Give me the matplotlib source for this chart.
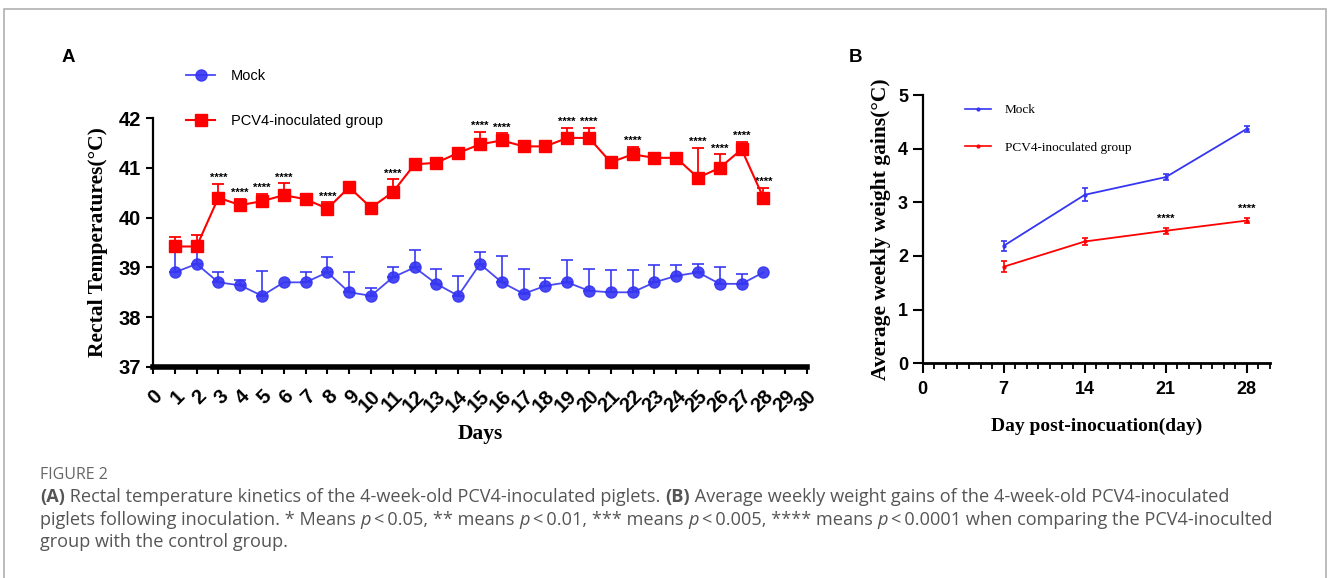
import numpy as np
import matplotlib
matplotlib.use("Agg")
import matplotlib.pyplot as plt
from matplotlib.patches import Rectangle
from matplotlib.ticker import MultipleLocator
from matplotlib.lines import Line2D

# 数据 (A: 直肠温度, B: 周增重)
days = list(range(1, 29))
mock_temp = [38.9, 39.07, 38.7, 38.64, 38.43, 38.7, 38.7, 38.9, 38.5, 38.43, 38.8, 39.0, 38.67, 38.43,
             39.07, 38.7, 38.47, 38.63, 38.7, 38.53, 38.5, 38.5, 38.7, 38.83, 38.9, 38.67, 38.67, 38.9]
mock_err = [0.4, 0.23, 0.2, 0.11, 0.5, 0.0, 0.2, 0.3, 0.4, 0.15, 0.2, 0.35, 0.3, 0.4,
            0.23, 0.52, 0.5, 0.15, 0.44, 0.43, 0.45, 0.45, 0.35, 0.22, 0.17, 0.33, 0.2, 0.0]
pcv4_temp = [39.42, 39.42, 40.4, 40.25, 40.33, 40.45, 40.37, 40.18, 40.61, 40.2, 40.51, 41.07, 41.1, 41.3,
             41.47, 41.55, 41.43, 41.43, 41.6, 41.6, 41.11, 41.27, 41.2, 41.2, 40.8, 41.0, 41.37, 40.4]
pcv4_err = [0.2, 0.24, 0.28, 0.13, 0.15, 0.24, 0.0, 0.13, 0.0, 0.0, 0.26, 0.0, 0.0, 0.0,
            0.25, 0.14, 0.0, 0.0, 0.2, 0.2, 0.0, 0.15, 0.0, 0.0, 0.6, 0.27, 0.15, 0.2]
star_days_a = [3, 4, 5, 6, 8, 11, 15, 16, 19, 20, 22, 25, 26, 27, 28]

week_days = [7, 14, 21, 28]
mock_gain = [2.19, 3.14, 3.47, 4.37]
mock_gain_err = [0.09, 0.12, 0.06, 0.06]
pcv4_gain = [1.80, 2.27, 2.47, 2.66]
pcv4_gain_err = [0.10, 0.06, 0.06, 0.05]
star_days_b = [21, 28]

BLUE = '#3535f2'
RED = '#ff0000'
SANS = ['Liberation Sans', 'DejaVu Sans']
SERIF = ['Liberation Serif', 'DejaVu Serif']

W, H = 1328, 578
fig = plt.figure(figsize=(W / 100, H / 100), dpi=100)

# 外框
fig.patches.append(Rectangle((4 / W, -0.1), (1326 - 4) / W, 1.1 - 9 / H, transform=fig.transFigure,
                             fill=False, edgecolor='#b0b0b0', linewidth=1.2))

# ---------------- A ----------------
axA = fig.add_axes([153 / W, 1 - 367 / H, (807 - 153) / W, (367 - 118) / H])
axA.set_xlim(0, 30)
axA.set_ylim(37, 42)
for s in ['top', 'right']:
    axA.spines[s].set_visible(False)
axA.spines['left'].set_linewidth(1.6)
axA.spines['bottom'].set_linewidth(4.0)
axA.set_xticks(range(0, 31))
axA.set_yticks(range(37, 43))
axA.tick_params(axis='both', width=1.5, length=5, direction='out', color='black')
axA.set_yticklabels([str(v) for v in range(37, 43)], fontsize=14.5, fontweight='bold', family=SANS)
axA.set_xticklabels([str(v) for v in range(0, 31)], fontsize=14.5, fontweight='bold', family=SANS,
                    rotation=45, ha='right', va='top', rotation_mode='anchor')
axA.tick_params(axis='x', pad=9)

d = np.array(days)
me = np.array(mock_err)
pe = np.array(pcv4_err)
mt = np.array(mock_temp)
pt = np.array(pcv4_temp)

axA.plot(d, mt, color=BLUE, lw=1.3, marker='o', ms=8, mfc=BLUE, mec=BLUE, alpha=0.9, zorder=3)
m = me > 0
axA.errorbar(d[m], mt[m], yerr=[np.zeros(m.sum()), me[m]], fmt='none', ecolor=BLUE, elinewidth=1.3,
             capsize=4, capthick=1.3, alpha=0.9, zorder=2)
axA.plot(d, pt, color=RED, lw=1.5, marker='s', ms=8, mfc=RED, mec=RED, zorder=5)
m = pe > 0
axA.errorbar(d[m], pt[m], yerr=[np.zeros(m.sum()), pe[m]], fmt='none', ecolor=RED, elinewidth=1.3,
             capsize=4, capthick=1.3, zorder=4)
for sd in star_days_a:
    i = days.index(sd)
    top = max(pcv4_temp[i] + pcv4_err[i], pcv4_temp[i] + 0.12)
    axA.annotate('****', (sd, top), xytext=(0, 0.5), textcoords='offset points', ha='center', va='bottom',
                 fontsize=8, fontweight='bold', family=SANS)
for sp in axA.spines.values():
    sp.set_zorder(6)

axA.set_ylabel('Rectal Temperatures(°C)', fontsize=15.5, fontweight='bold', family=SERIF, labelpad=8)
axA.set_xlabel('Days', fontsize=15.5, fontweight='bold', family=SERIF, labelpad=6)

hA = [Line2D([], [], color=BLUE, lw=1.3, marker='o', ms=8, alpha=0.9),
      Line2D([], [], color=RED, lw=1.5, marker='s', ms=8)]
fig.legend(hA, ['Mock', 'PCV4-inoculated group'], loc='upper left', bbox_to_anchor=(186 / W, 1 - 69 / H),
           frameon=False, borderpad=0, borderaxespad=0, handlelength=2.0, handletextpad=1.1,
           labelspacing=2.15, prop={'family': SANS, 'size': 10.5})

fig.text(68 / W, 1 - 57 / H, 'A', fontsize=13.5, fontweight='bold', family=SANS, ha='center', va='center')

# ---------------- B ----------------
axB = fig.add_axes([922.7 / W, 1 - 363.3 / H, (1270 - 922.7) / W, (363.3 - 95) / H])
axB.set_xlim(0, 30)
axB.set_ylim(0, 5)
for s in ['top', 'right']:
    axB.spines[s].set_visible(False)
axB.spines['left'].set_linewidth(1.6)
axB.spines['bottom'].set_linewidth(2.0)
axB.set_xticks([0, 7, 14, 21, 28])
axB.xaxis.set_minor_locator(MultipleLocator(1))
axB.set_yticks(range(0, 6))
axB.tick_params(axis='both', which='major', width=1.5, length=7, direction='out')
axB.tick_params(axis='x', which='minor', width=1.3, length=4.5, direction='out')
axB.tick_params(axis='x', which='major', pad=6)
axB.set_xticklabels(['0', '7', '14', '21', '28'], fontsize=13, fontweight='bold', family=SANS)
axB.set_yticklabels([str(v) for v in range(0, 6)], fontsize=13, fontweight='bold', family=SANS)

axB.errorbar(week_days, mock_gain, yerr=mock_gain_err, color=BLUE, lw=1.3, marker='o', ms=2,
             capsize=2.2, capthick=1.2, elinewidth=1.2)
axB.errorbar(week_days, pcv4_gain, yerr=pcv4_gain_err, color=RED, lw=1.3, marker='o', ms=2,
             capsize=2.2, capthick=1.2, elinewidth=1.2)
for sd in star_days_b:
    i = week_days.index(sd)
    axB.annotate('****', (sd, pcv4_gain[i] + pcv4_gain_err[i]), xytext=(0, 3), textcoords='offset points',
                 ha='center', va='bottom', fontsize=8, fontweight='bold', family=SANS)

axB.set_ylabel('Average weekly weight gains(°C)', fontsize=15.5, fontweight='bold', family=SERIF, labelpad=5)
axB.set_xlabel('Day post-inocuation(day)', fontsize=14, fontweight='bold', family=SERIF, labelpad=14)

hB = [Line2D([], [], color=BLUE, lw=1.2, marker='o', ms=2),
      Line2D([], [], color=RED, lw=1.2, marker='o', ms=2)]
fig.legend(hB, ['Mock', 'PCV4-inoculated group'], loc='upper left', bbox_to_anchor=(965 / W, 1 - 104 / H),
           frameon=False, borderpad=0, borderaxespad=0, handlelength=2.0, handletextpad=1.0,
           labelspacing=1.9, prop={'family': SERIF, 'size': 9.5})

fig.text(855 / W, 1 - 57 / H, 'B', fontsize=13.5, fontweight='bold', family=SANS, ha='center', va='center')

# ---------------- 图注 ----------------
CAP = ['Open Sans', 'DejaVu Sans']
cap_col = '#555555'
cap_size = 13.1
fig.text(40 / W, 1 - 475 / H, 'FIGURE 2', fontsize=11.5, color='#666666', family=CAP, va='center')

renderer = fig.canvas.get_renderer()


def rich_line(y, parts):
    x = 40 / W
    for s, kw in parts:
        t = fig.text(x, 1 - y / H, s, fontsize=cap_size, color=cap_col, family=CAP, va='center', **kw)
        x += t.get_window_extent(renderer).width / W


B_ = {'fontweight': 'bold'}
I_ = {'fontstyle': 'italic'}
N_ = {}
rich_line(497, [('(A)', B_), (' Rectal temperature kinetics of the 4-week-old PCV4-inoculated piglets. ', N_),
                ('(B)', B_), (' Average weekly weight gains of the 4-week-old PCV4-inoculated', N_)])
rich_line(520, [('piglets following inoculation. * Means ', N_), ('p', I_), ('\u2009<\u20090.05, ** means ', N_),
                ('p', I_), ('\u2009<\u20090.01, *** means ', N_), ('p', I_),
                ('\u2009<\u20090.005, **** means ', N_), ('p', I_),
                ('\u2009<\u20090.0001 when comparing the PCV4-inoculted', N_)])
rich_line(542, [('group with the control group.', N_)])

fig.savefig('out.png', dpi=100)
